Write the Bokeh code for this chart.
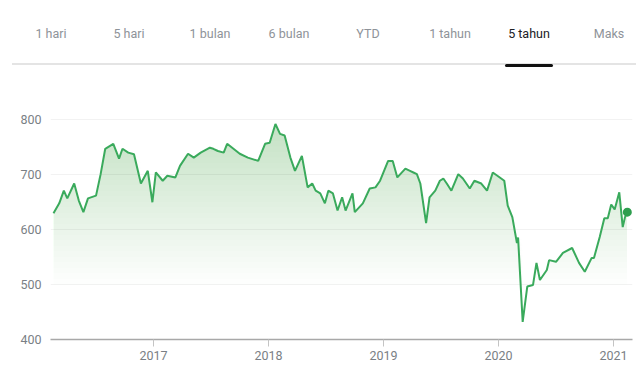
import numpy as np
from bokeh.plotting import figure
from bokeh.layouts import column
from bokeh.models import FixedTicker, Range1d, Div
from bokeh.embed import file_html
from bokeh.resources import INLINE

# ---- data ----
years = [
    2016.13, 2016.18, 2016.22, 2016.25, 2016.31, 2016.35, 2016.39, 2016.43, 2016.50, 2016.54,
    2016.58, 2016.65, 2016.70, 2016.73, 2016.78, 2016.83, 2016.89, 2016.95, 2016.99, 2017.02,
    2017.08, 2017.12, 2017.19, 2017.23, 2017.30, 2017.35, 2017.41, 2017.49, 2017.52, 2017.56,
    2017.61, 2017.64, 2017.75, 2017.82, 2017.91, 2017.97, 2018.01, 2018.06, 2018.10, 2018.14,
    2018.19, 2018.23, 2018.29, 2018.34, 2018.38, 2018.41, 2018.45, 2018.49, 2018.52, 2018.56,
    2018.60, 2018.64, 2018.67, 2018.73, 2018.75, 2018.82, 2018.88, 2018.93, 2018.97, 2019.04,
    2019.08, 2019.12, 2019.19, 2019.23, 2019.26, 2019.29, 2019.32, 2019.37, 2019.40, 2019.45,
    2019.49, 2019.52, 2019.55, 2019.59, 2019.65, 2019.69, 2019.75, 2019.79, 2019.85, 2019.90,
    2019.95, 2019.99, 2020.05, 2020.08, 2020.12, 2020.16, 2020.17, 2020.21, 2020.25, 2020.30,
    2020.33, 2020.36, 2020.42, 2020.44, 2020.50, 2020.56, 2020.64, 2020.70, 2020.75, 2020.81,
    2020.83, 2020.88, 2020.92, 2020.95, 2020.98, 2021.01, 2021.05, 2021.08, 2021.10, 2021.12,
]
prices = [
    629, 647, 670, 656, 683, 652, 631, 656, 661, 700,
    746, 755, 728, 746, 739, 736, 683, 706, 649, 703,
    688, 697, 694, 715, 737, 730, 739, 748, 746, 742,
    739, 755, 737, 730, 724, 755, 757, 791, 773, 770,
    730, 706, 733, 676, 683, 670, 665, 647, 670, 665,
    634, 658, 634, 665, 631, 647, 674, 676, 688, 724,
    724, 694, 710, 706, 703, 700, 683, 611, 658, 670,
    688, 692, 683, 670, 700, 692, 674, 688, 683, 670,
    703, 697, 688, 643, 622, 575, 585, 432, 496, 499,
    539, 508, 526, 544, 541, 557, 566, 539, 523, 548,
    548, 586, 620, 620, 645, 636, 667, 604, 622, 631,
]
y_ticks = [400, 500, 600, 700, 800]
x_ticks = [2017, 2018, 2019, 2020, 2021]
tab_labels = ["1 hari", "5 hari", "1 bulan", "6 bulan", "YTD", "1 tahun", "5 tahun", "Maks"]
selected_tab = "5 tahun"

# ---- styling / layout constants ----
GREEN = "#3aaa5c"
FONT = "Roboto"
W = 636

# ---- tab bar (HTML) ----
tab_x = [51, 129, 210, 289, 368, 450, 529, 609]
parts = []
for name, cx in zip(tab_labels, tab_x):
    color = "#202124" if name == selected_tab else "#8e9399"
    parts.append(
        f'<span style="position:absolute;left:{cx - 40}px;width:80px;top:26px;'
        f'text-align:center;color:{color};line-height:16px;">{name}</span>')
parts.append('<div style="position:absolute;left:12px;top:63px;width:624px;'
             'height:2px;background:#e4e4e4;"></div>')
sx = tab_x[tab_labels.index(selected_tab)]
parts.append(f'<div style="position:absolute;left:{sx - 24}px;top:63.5px;width:48px;'
             'height:3px;border-radius:2px;background:#111111;"></div>')
tabs = Div(text="".join(parts), width=W, height=80, margin=0,
           styles={"position": "relative", "font-family": FONT, "font-size": "12.5px",
                   "width": f"{W}px", "height": "80px"})

# ---- price chart ----
p = figure(width=W, height=288, output_backend="svg", toolbar_location=None,
           x_range=Range1d(2016.104, 2021.165), y_range=Range1d(400, 810),
           min_border_left=50, min_border_right=4, min_border_top=33, min_border_bottom=29)
p.outline_line_color = None

x_arr = np.array(years, dtype=float)
y_arr = np.array(prices, dtype=float)
for lvl in np.linspace(500, 790, 30):
    p.varea(x=x_arr, y1=lvl, y2=np.maximum(y_arr, lvl), fill_color="#34a853", fill_alpha=0.011)

p.line(x_arr, y_arr, line_color=GREEN, line_width=2)
p.scatter([years[-1]], [prices[-1]], size=9, fill_color="#2f9e4f", line_color=None)

p.xgrid.grid_line_color = None
p.ygrid.grid_line_color = "#f2f2f2"
p.ygrid.ticker = FixedTicker(ticks=y_ticks)
p.yaxis.ticker = FixedTicker(ticks=y_ticks)
p.xaxis.ticker = FixedTicker(ticks=x_ticks)
p.yaxis.axis_line_color = None
p.yaxis.major_tick_line_color = None
p.yaxis.minor_tick_line_color = None
p.yaxis.major_label_standoff = 3
p.xaxis.axis_line_color = "#a8a8a8"
p.xaxis.axis_line_width = 1.5
p.xaxis.major_tick_line_color = "#c4c4c4"
p.xaxis.major_tick_out = 7
p.xaxis.major_tick_in = 0
p.xaxis.minor_tick_line_color = None
p.xaxis.major_label_standoff = 4
for ax in (p.xaxis, p.yaxis):
    ax.major_label_text_font = FONT
    ax.major_label_text_font_size = "12.5px"
    ax.major_label_text_color = "#7a7f85"

layout = column(tabs, p, spacing=0)
open("out.html", "w").write(file_html(layout, INLINE))
